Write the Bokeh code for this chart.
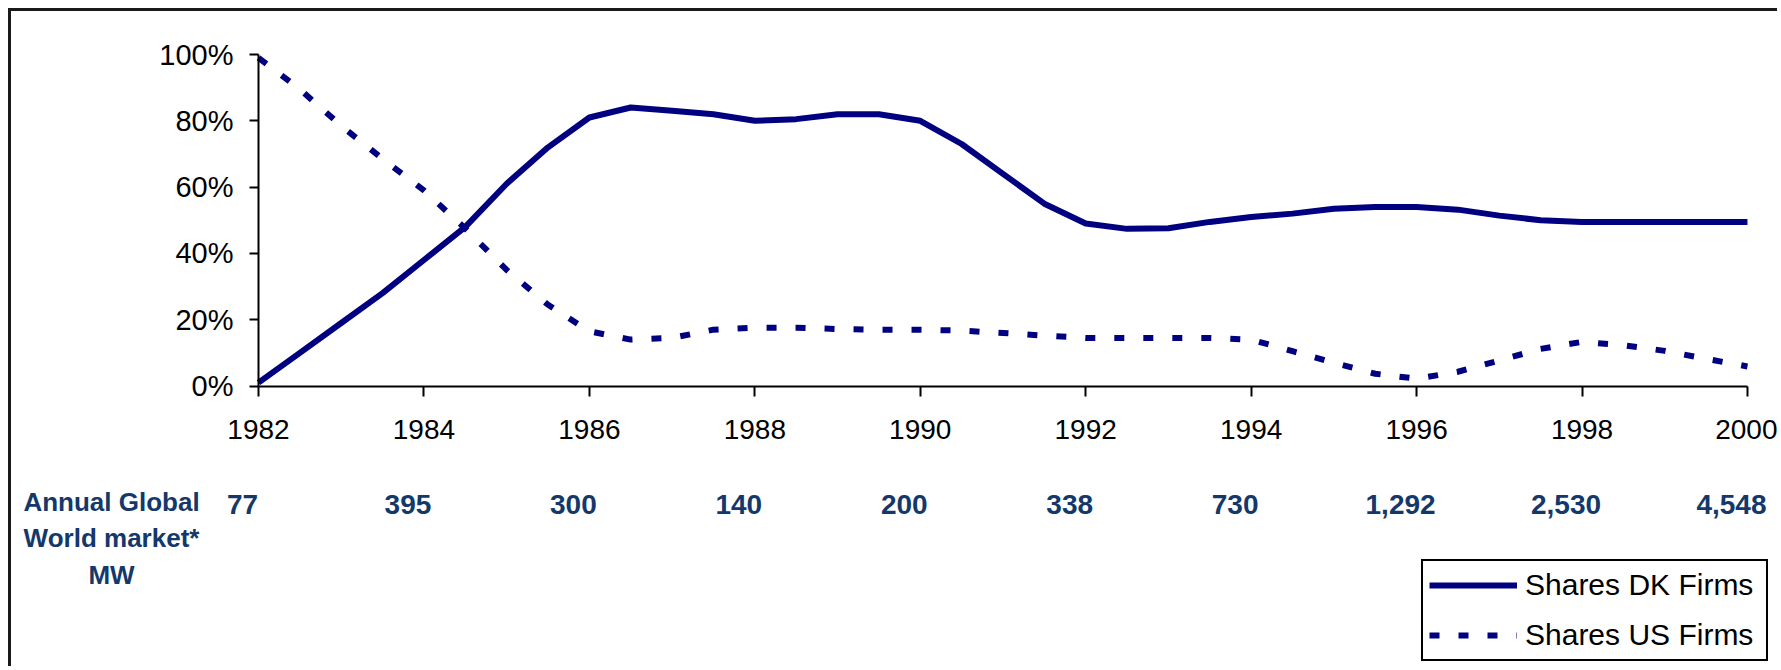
from bokeh.plotting import figure
from bokeh.models import (Range1d, FixedTicker, NumeralTickFormatter, Legend, LegendItem,
                          LinearAxis, ColumnDataSource)
from bokeh.core.properties import value
from bokeh.embed import file_html
from bokeh.resources import INLINE

# ---------------- data ----------------
years = [1982.0, 1982.5, 1983.0, 1983.5, 1984.0, 1984.5, 1985.0, 1985.5, 1986.0, 1986.5,
         1987.0, 1987.5, 1988.0, 1988.5, 1989.0, 1989.5, 1990.0, 1990.5, 1991.0, 1991.5,
         1992.0, 1992.5, 1993.0, 1993.5, 1994.0, 1994.5, 1995.0, 1995.5, 1996.0, 1996.5,
         1997.0, 1997.5, 1998.0, 1998.5, 1999.0, 1999.5, 2000.0]
dk_share = [0.01, 0.10, 0.19, 0.28, 0.38, 0.48, 0.61, 0.72, 0.81, 0.84,
            0.83, 0.82, 0.80, 0.805, 0.82, 0.82, 0.80, 0.73, 0.64, 0.55,
            0.49, 0.474, 0.476, 0.495, 0.51, 0.52, 0.535, 0.54, 0.54, 0.532,
            0.514, 0.50, 0.495, 0.495, 0.495, 0.495, 0.495]
us_share = [0.99, 0.895, 0.785, 0.685, 0.59, 0.475, 0.35, 0.245, 0.165, 0.14,
            0.145, 0.17, 0.176, 0.176, 0.172, 0.17, 0.17, 0.167, 0.16, 0.152,
            0.145, 0.145, 0.145, 0.145, 0.14, 0.105, 0.07, 0.037, 0.022, 0.043,
            0.077, 0.112, 0.133, 0.123, 0.106, 0.082, 0.059]
tick_years = [1982, 1984, 1986, 1988, 1990, 1992, 1994, 1996, 1998, 2000]
mw_labels = ["77", "395", "300", "140", "200", "338", "730", "1,292", "2,530", "4,548"]
row_title = ["Annual Global", "World market*", "MW"]
series_names = ["Shares DK Firms", "Shares US Firms"]

# ---------------- layout / style ----------------
NAVY = "#000080"
TEXT_BLUE = "#14386A"
FONT = "Liberation Sans"
W, H = 1769, 658
PX_PER_YEAR = 82.72          # horizontal scale in pixels
PX_PER_UNIT = 331.5          # vertical scale (0..1 share) in pixels
X0_PX, Y0_PX = 247, 374.5    # position of (1982, 0%) inside the canvas

x_start = 1982 - X0_PX / PX_PER_YEAR
x_end = x_start + W / PX_PER_YEAR
y_end = (Y0_PX) / PX_PER_UNIT
y_start = -(H - Y0_PX) / PX_PER_UNIT

p = figure(width=W, height=H, x_range=Range1d(x_start, x_end), y_range=Range1d(y_start, y_end),
           output_backend="svg", toolbar_location=None, x_axis_type=None, y_axis_type=None,
           min_border=0, min_border_left=0, min_border_right=0, min_border_top=0,
           min_border_bottom=0)
p.styles = {"margin-left": "8px", "margin-top": "8px",
            "border-left": "3px solid #1a1a1a", "border-top": "3px solid #1a1a1a"}
p.outline_line_color = None
p.grid.visible = False
p.background_fill_color = "white"
p.border_fill_color = "white"

r_dk = p.line(years, dk_share, line_color=NAVY, line_width=6, line_join="round")
r_us = p.line(years, us_share, line_color=NAVY, line_width=6, line_dash="10 19")

xaxis = LinearAxis(fixed_location=0, bounds=(1982, 2000), ticker=FixedTicker(ticks=tick_years))
yaxis = LinearAxis(fixed_location=1982, bounds=(0, 1),
                   ticker=FixedTicker(ticks=[0, 0.2, 0.4, 0.6, 0.8, 1.0]),
                   formatter=NumeralTickFormatter(format="0%"))
for ax in (xaxis, yaxis):
    ax.axis_line_color = "black"
    ax.axis_line_width = 2
    ax.major_tick_line_color = "black"
    ax.major_tick_line_width = 2
    ax.major_tick_in = 0
    ax.minor_tick_line_color = None
    ax.major_label_text_font = FONT
    ax.major_label_text_color = "black"
xaxis.major_tick_out = 10
xaxis.major_label_text_font_size = "28px"
xaxis.major_label_standoff = 24
yaxis.major_tick_out = 9
yaxis.major_label_text_font_size = "29px"
yaxis.major_label_standoff = 16
p.add_layout(xaxis, "below")
p.add_layout(yaxis, "left")

# market size row under the axis
src = ColumnDataSource(dict(x=tick_years, y=[-0.356] * len(tick_years), t=mw_labels))
p.text(x="x", y="y", text="t", source=src, x_offset=-16,
       text_align="center", text_baseline="middle",
       text_font=value(FONT), text_font_size="28px", text_font_style="bold",
       text_color=TEXT_BLUE)

title_src = ColumnDataSource(dict(x=[1980.223] * 3, y=[-0.3514, -0.4600, -0.5716], t=row_title))
p.text(x="x", y="y", text="t", source=title_src,
       text_align="center", text_baseline="middle",
       text_font=value(FONT), text_font_size="26px", text_font_style="bold",
       text_color=TEXT_BLUE)

legend = Legend(items=[LegendItem(label=series_names[0], renderers=[r_dk]),
                       LegendItem(label=series_names[1], renderers=[r_us])],
                location=(1410, 8))
legend.border_line_color = "black"
legend.border_line_alpha = 1
legend.border_line_width = 2
legend.background_fill_color = "white"
legend.background_fill_alpha = 1
legend.padding = 6
legend.margin = 0
legend.spacing = 14
legend.glyph_width = 88
legend.glyph_height = 36
legend.label_height = 36
legend.label_width = 235
legend.label_standoff = 8
legend.label_text_font = FONT
legend.label_text_font_size = "30px"
legend.label_text_color = "black"
p.add_layout(legend, "center")

open("out.html", "w").write(file_html(p, INLINE))
